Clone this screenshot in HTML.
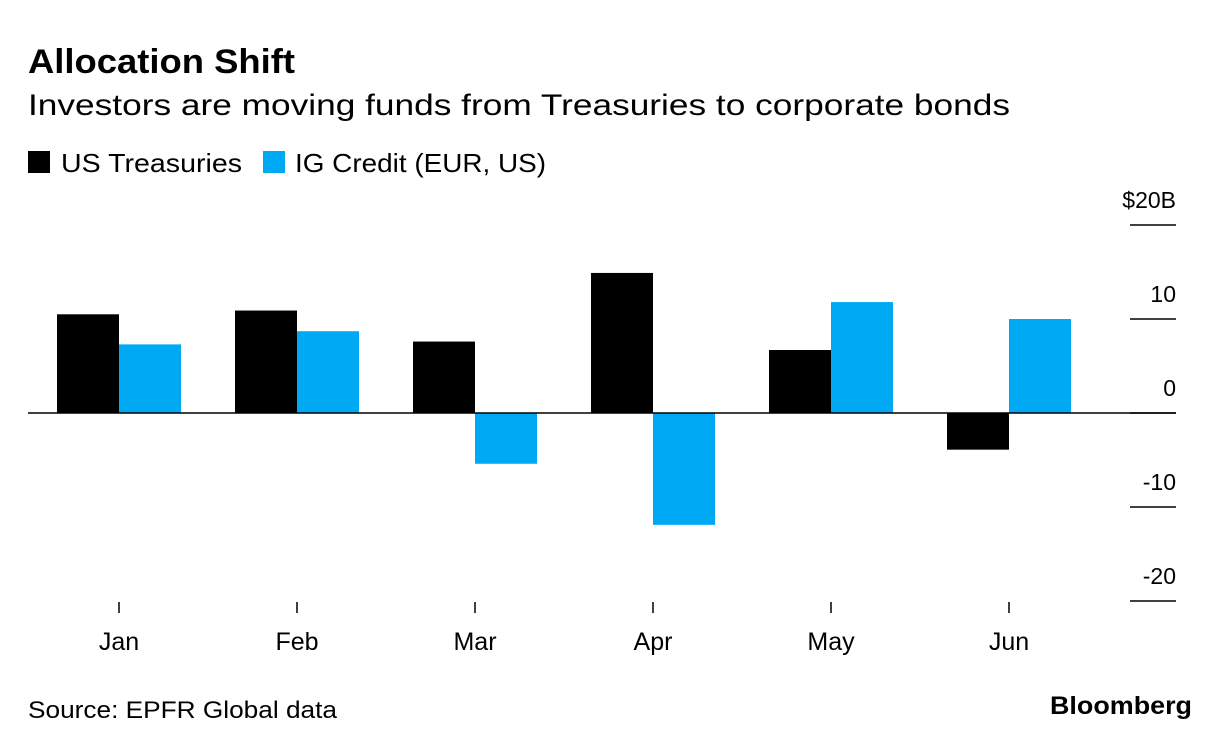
<!DOCTYPE html>
<html><head><meta charset="utf-8"><style>
body{margin:0;background:#fff;width:1230px;height:750px;overflow:hidden;font-family:"Liberation Sans",Arial,sans-serif}
svg{display:block}
</style></head><body>
<svg id="c" width="1230" height="750" xmlns="http://www.w3.org/2000/svg" font-family="Liberation Sans, Arial, sans-serif">
<text x="28" y="73" font-size="34" font-weight="bold" fill="#000" textLength="267" lengthAdjust="spacingAndGlyphs">Allocation Shift</text>
<text x="28" y="115" font-size="30" fill="#000" textLength="982" lengthAdjust="spacingAndGlyphs">Investors are moving funds from Treasuries to corporate bonds</text>
<g>
<rect x="28" y="151" width="22" height="22" fill="#000"/>
<text x="61" y="172" font-size="26" fill="#000" textLength="181" lengthAdjust="spacingAndGlyphs">US Treasuries</text>
<rect x="263" y="151" width="22" height="22" fill="#00a9f4"/>
<text x="295" y="172" font-size="26" fill="#000" textLength="251" lengthAdjust="spacingAndGlyphs">IG Credit (EUR, US)</text>
</g>
<g id="plot"></g>
<text x="28" y="718" font-size="24" fill="#000" textLength="309" lengthAdjust="spacingAndGlyphs">Source: EPFR Global data</text>
<text x="1050" y="714" font-size="25" font-weight="bold" fill="#000" textLength="142" lengthAdjust="spacingAndGlyphs">Bloomberg</text>
</svg>
<script>
const categories=["Jan","Feb","Mar","Apr","May","Jun"];
const usTreasuries=[10.5,10.9,7.6,14.9,6.7,-3.9];
const igCredit=[7.3,8.7,-5.4,-11.9,11.8,10.0];
const yTicks=[20,10,0,-10,-20];
const yTickLabels=["$20B","10","0","-10","-20"];
const NS="http://www.w3.org/2000/svg";
const g=document.getElementById("plot");
function y(v){return 413-v*9.4;}
function x(i){return 119+i*178;}
const bw=62;
function el(t,a){const e=document.createElementNS(NS,t);for(const k in a)e.setAttribute(k,a[k]);g.appendChild(e);return e;}
yTicks.forEach((v,i)=>{
  const l=el("line",{x1:1130,x2:1176,y1:y(v),y2:y(v),stroke:"#000","stroke-width":1.5});
  
  
  const t=el("text",{x:1176,y:y(v)-17,"font-size":23,"text-anchor":"end",fill:"#000"});
  t.textContent=yTickLabels[i];
  
  
});
categories.forEach((c,i)=>{
  const v1=usTreasuries[i],v2=igCredit[i];
  const b1=el("rect",{x:x(i)-bw,y:Math.min(y(v1),y(0)),width:bw,height:Math.abs(y(v1)-y(0)),fill:"#000"});
  
  
  const b2=el("rect",{x:x(i),y:Math.min(y(v2),y(0)),width:bw,height:Math.abs(y(v2)-y(0)),fill:"#00a9f4"});
  
  
  const tk=el("line",{x1:x(i),x2:x(i),y1:602,y2:613,stroke:"#000","stroke-width":1.5});
  
  
  const t=el("text",{x:x(i),y:650,"font-size":25,"text-anchor":"middle",fill:"#000"});
  t.textContent=c;
  
  
});
const z=el("line",{x1:28,x2:1176,y1:y(0),y2:y(0),stroke:"#000","stroke-width":1.5});


</script>
</body></html>
